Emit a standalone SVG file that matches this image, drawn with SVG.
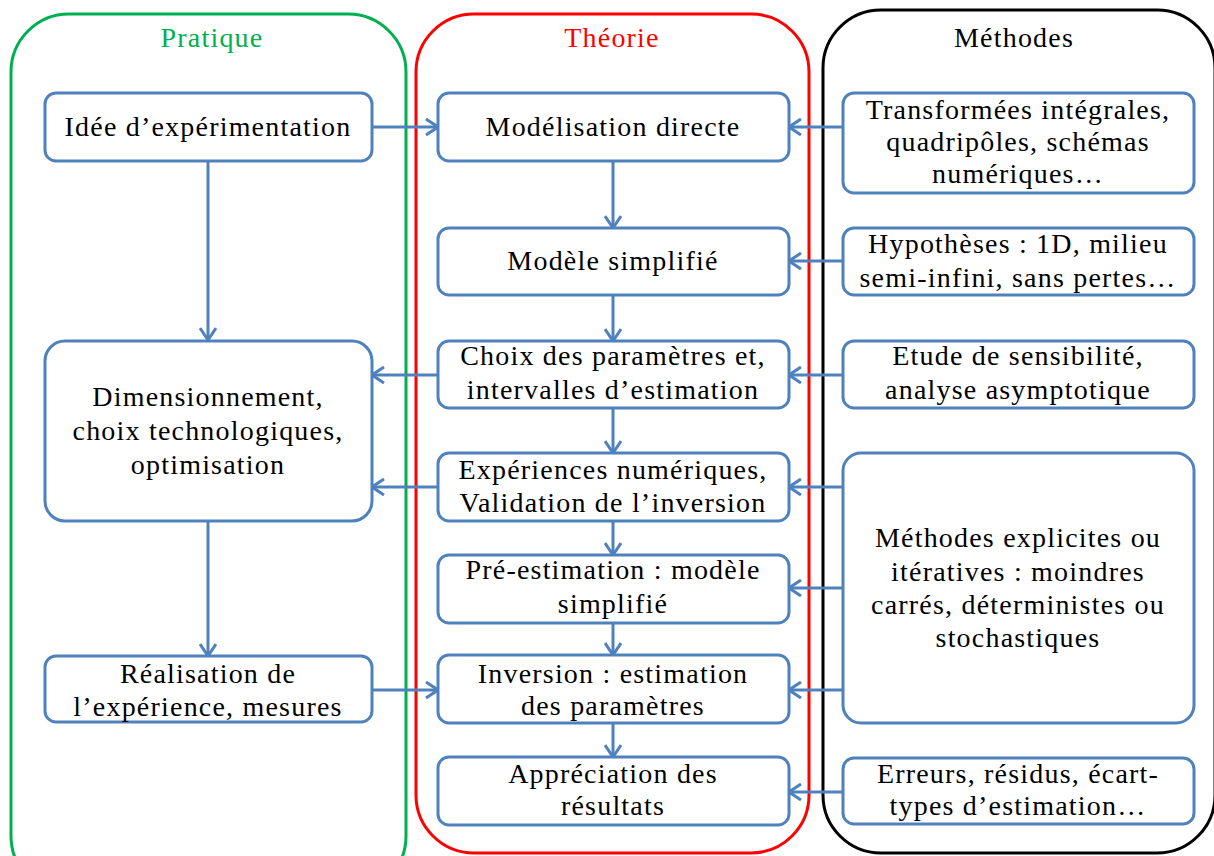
<svg xmlns="http://www.w3.org/2000/svg" width="1214" height="856" viewBox="0 0 1214 856">
<style>
.box{fill:#fff;stroke:#4F81BD;stroke-width:3}
.t{font-family:"Liberation Serif","DejaVu Serif",serif;font-size:28px;letter-spacing:1.2px;fill:#000;text-anchor:middle}
.h{font-family:"Liberation Serif","DejaVu Serif",serif;font-size:28px;letter-spacing:1.2px;text-anchor:middle}
.c{fill:none;stroke:#4F81BD;stroke-width:3}
</style>
<defs>
<marker id="ah" viewBox="0 0 14 18" refX="13" refY="9" markerWidth="14" markerHeight="18" markerUnits="userSpaceOnUse" orient="auto">
<path d="M1,1 L13,9 L1,17" fill="none" stroke="#4F81BD" stroke-width="3"/>
</marker>
</defs>
<rect width="1214" height="856" fill="#fff"/>
<g id="panels">
<rect id="pratique" x="11" y="14" width="395" height="880" rx="58" fill="none" stroke="#00B050" stroke-width="3"/>
<rect id="theorie" x="416" y="14" width="393" height="839" rx="58" fill="none" stroke="#FF0000" stroke-width="3"/>
<rect id="methodes" x="823" y="10" width="392" height="843" rx="58" fill="none" stroke="#000" stroke-width="3"/>
<text class="h" x="212" y="47" fill="#00B050">Pratique</text>
<text class="h" x="612" y="47" fill="#FF0000">Théorie</text>
<text class="h" x="1014" y="47" fill="#000">Méthodes</text>
</g>
<g id="connectors" class="c">
<line x1="372" y1="127" x2="438" y2="127" marker-end="url(#ah)"/>
<line x1="843" y1="127" x2="789" y2="127" marker-end="url(#ah)"/>
<line x1="613" y1="161" x2="613" y2="228" marker-end="url(#ah)"/>
<line x1="843" y1="261" x2="789" y2="261" marker-end="url(#ah)"/>
<line x1="613" y1="295" x2="613" y2="341" marker-end="url(#ah)"/>
<line x1="438" y1="375" x2="372" y2="375" marker-end="url(#ah)"/>
<line x1="843" y1="375" x2="789" y2="375" marker-end="url(#ah)"/>
<line x1="613" y1="408" x2="613" y2="453" marker-end="url(#ah)"/>
<line x1="438" y1="487" x2="372" y2="487" marker-end="url(#ah)"/>
<line x1="843" y1="487" x2="789" y2="487" marker-end="url(#ah)"/>
<line x1="613" y1="521" x2="613" y2="555" marker-end="url(#ah)"/>
<line x1="843" y1="588" x2="789" y2="588" marker-end="url(#ah)"/>
<line x1="613" y1="623" x2="613" y2="655" marker-end="url(#ah)"/>
<line x1="843" y1="690" x2="789" y2="690" marker-end="url(#ah)"/>
<line x1="372" y1="690" x2="438" y2="690" marker-end="url(#ah)"/>
<line x1="613" y1="723" x2="613" y2="757" marker-end="url(#ah)"/>
<line x1="843" y1="792" x2="789" y2="792" marker-end="url(#ah)"/>
<line x1="208" y1="161" x2="208" y2="340" marker-end="url(#ah)"/>
<line x1="208" y1="522" x2="208" y2="656" marker-end="url(#ah)"/>
</g>
<g id="n-idee"><rect class="box" x="45" y="93" width="327" height="68" rx="11"/><text class="t" x="208" y="136">Idée d’expérimentation</text></g>
<g id="n-dim"><rect class="box" x="45" y="341" width="327" height="180" rx="20"/><text class="t" x="208" y="406">Dimensionnement,</text><text class="t" x="208" y="440">choix technologiques,</text><text class="t" x="208" y="474">optimisation</text></g>
<g id="n-real"><rect class="box" x="45" y="656" width="327" height="66" rx="11"/><text class="t" x="208" y="683">Réalisation de</text><text class="t" x="208" y="716">l’expérience, mesures</text></g>
<g id="n-model"><rect class="box" x="438" y="93" width="351" height="68" rx="11"/><text class="t" x="613" y="136">Modélisation directe</text></g>
<g id="n-simpl"><rect class="box" x="438" y="228" width="351" height="67" rx="11"/><text class="t" x="613" y="270">Modèle simplifié</text></g>
<g id="n-choix"><rect class="box" x="438" y="341" width="351" height="67" rx="11"/><text class="t" x="613" y="365">Choix des paramètres et,</text><text class="t" x="613" y="399">intervalles d’estimation</text></g>
<g id="n-exp"><rect class="box" x="438" y="453" width="351" height="68" rx="11"/><text class="t" x="613" y="479">Expériences numériques,</text><text class="t" x="613" y="512">Validation de l’inversion</text></g>
<g id="n-pre"><rect class="box" x="438" y="555" width="351" height="68" rx="11"/><text class="t" x="613" y="579">Pré-estimation : modèle</text><text class="t" x="613" y="613">simplifié</text></g>
<g id="n-inv"><rect class="box" x="438" y="655" width="351" height="68" rx="11"/><text class="t" x="613" y="683">Inversion : estimation</text><text class="t" x="613" y="715">des paramètres</text></g>
<g id="n-appr"><rect class="box" x="438" y="757" width="351" height="68" rx="11"/><text class="t" x="613" y="783">Appréciation des</text><text class="t" x="613" y="815">résultats</text></g>
<g id="n-transf"><rect class="box" x="843" y="93" width="351" height="100" rx="11"/><text class="t" x="1018" y="119">Transformées intégrales,</text><text class="t" x="1018" y="151">quadripôles, schémas</text><text class="t" x="1018" y="183">numériques…</text></g>
<g id="n-hyp"><rect class="box" x="843" y="228" width="351" height="67" rx="11"/><text class="t" x="1018" y="253">Hypothèses : 1D, milieu</text><text class="t" x="1018" y="287">semi-infini, sans pertes…</text></g>
<g id="n-etude"><rect class="box" x="843" y="341" width="351" height="67" rx="11"/><text class="t" x="1018" y="365">Etude de sensibilité,</text><text class="t" x="1018" y="399">analyse asymptotique</text></g>
<g id="n-meth"><rect class="box" x="843" y="453" width="351" height="270" rx="18"/><text class="t" x="1018" y="547">Méthodes explicites ou</text><text class="t" x="1018" y="581">itératives : moindres</text><text class="t" x="1018" y="614">carrés, déterministes ou</text><text class="t" x="1018" y="647">stochastiques</text></g>
<g id="n-err"><rect class="box" x="843" y="758" width="351" height="66" rx="11"/><text class="t" x="1018" y="783">Erreurs, résidus, écart-</text><text class="t" x="1018" y="815">types d’estimation…</text></g>
</svg>
